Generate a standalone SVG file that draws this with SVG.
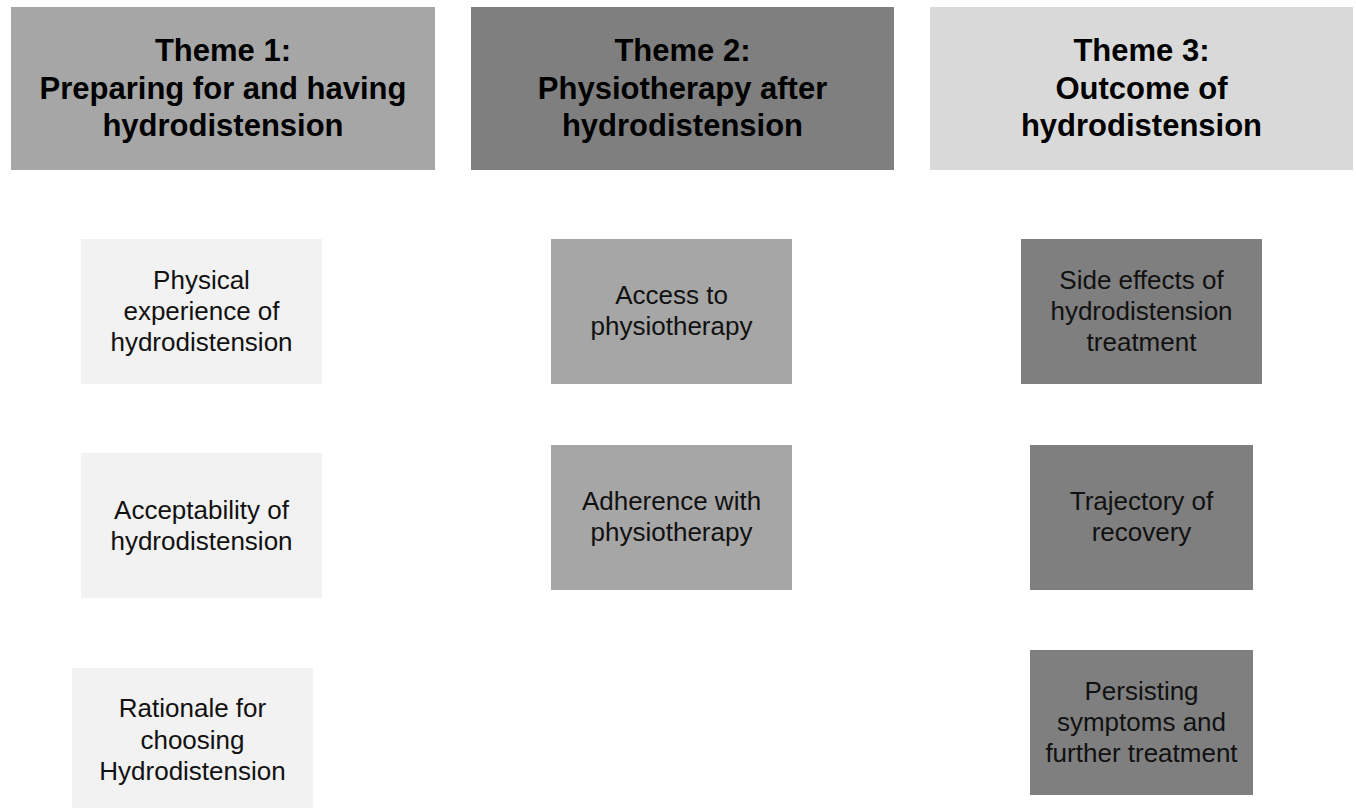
<svg xmlns="http://www.w3.org/2000/svg" width="1356" height="808" viewBox="0 0 1356 808">
<style>
.h{font-family:"Liberation Sans",Arial,sans-serif;font-weight:bold;font-size:31px;fill:#000;text-anchor:middle}
.t{font-family:"Liberation Sans",Arial,sans-serif;font-size:26px;fill:#111;text-anchor:middle}
.g1{fill:#a6a6a6}.g2{fill:#7f7f7f}.g3{fill:#d9d9d9}.g4{fill:#f2f2f2}
</style>
<rect width="1356" height="808" fill="#fff"/>
<g id="theme1"><rect class="g1" x="11" y="7" width="424" height="163"/>
<text class="h"><tspan x="223" y="61">Theme 1:</tspan><tspan x="223" y="99">Preparing for and having</tspan><tspan x="223" y="136">hydrodistension</tspan></text></g>
<g id="theme2"><rect class="g2" x="471" y="7" width="423" height="163"/>
<text class="h"><tspan x="682.5" y="61">Theme 2:</tspan><tspan x="682.5" y="99">Physiotherapy after</tspan><tspan x="682.5" y="136">hydrodistension</tspan></text></g>
<g id="theme3"><rect class="g3" x="930" y="7" width="423" height="163"/>
<text class="h"><tspan x="1141.5" y="61">Theme 3:</tspan><tspan x="1141.5" y="99">Outcome of</tspan><tspan x="1141.5" y="136">hydrodistension</tspan></text></g>
<g id="physical"><rect class="g4" x="81" y="239" width="241" height="145"/>
<text class="t"><tspan x="201.5" y="289">Physical</tspan><tspan x="201.5" y="320">experience of</tspan><tspan x="201.5" y="351">hydrodistension</tspan></text></g>
<g id="acceptability"><rect class="g4" x="81" y="453" width="241" height="145"/>
<text class="t"><tspan x="201.5" y="519">Acceptability of</tspan><tspan x="201.5" y="550">hydrodistension</tspan></text></g>
<g id="rationale"><rect class="g4" x="72" y="668" width="241" height="145"/>
<text class="t"><tspan x="192.5" y="717">Rationale for</tspan><tspan x="192.5" y="749">choosing</tspan><tspan x="192.5" y="780">Hydrodistension</tspan></text></g>
<g id="access"><rect class="g1" x="551" y="239" width="241" height="145"/>
<text class="t"><tspan x="671.5" y="304">Access to</tspan><tspan x="671.5" y="335">physiotherapy</tspan></text></g>
<g id="adherence"><rect class="g1" x="551" y="445" width="241" height="145"/>
<text class="t"><tspan x="671.5" y="510">Adherence with</tspan><tspan x="671.5" y="541">physiotherapy</tspan></text></g>
<g id="sideeffects"><rect class="g2" x="1021" y="239" width="241" height="145"/>
<text class="t"><tspan x="1141.5" y="289">Side effects of</tspan><tspan x="1141.5" y="320">hydrodistension</tspan><tspan x="1141.5" y="351">treatment</tspan></text></g>
<g id="trajectory"><rect class="g2" x="1030" y="445" width="223" height="145"/>
<text class="t"><tspan x="1141.5" y="510">Trajectory of</tspan><tspan x="1141.5" y="541">recovery</tspan></text></g>
<g id="persisting"><rect class="g2" x="1030" y="650" width="223" height="145"/>
<text class="t"><tspan x="1141.5" y="700">Persisting</tspan><tspan x="1141.5" y="731">symptoms and</tspan><tspan x="1141.5" y="762">further treatment</tspan></text></g>
<g id="connectors"></g>
</svg>
